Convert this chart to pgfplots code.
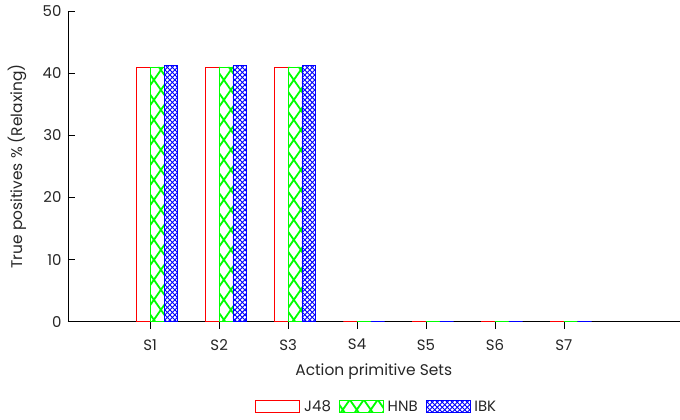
\documentclass[border=0pt]{standalone}
\usepackage{fontspec}
\setmainfont{Poppins}
\usepackage{pgfplots}
\pgfplotsset{compat=1.18}
\usetikzlibrary{patterns}
\pgfdeclarepatternformonly{bigX}{\pgfqpoint{-1bp}{-1bp}}{\pgfqpoint{15bp}{21bp}}{\pgfqpoint{14bp}{20bp}}{%
  \pgfsetlinewidth{1.8bp}%
  \pgfpathmoveto{\pgfqpoint{0bp}{0bp}}\pgfpathlineto{\pgfqpoint{14bp}{20bp}}%
  \pgfpathmoveto{\pgfqpoint{0bp}{20bp}}\pgfpathlineto{\pgfqpoint{14bp}{0bp}}%
  \pgfusepath{stroke}}
\pgfdeclarepatternformonly{smallX}{\pgfqpoint{-1bp}{-1bp}}{\pgfqpoint{6bp}{6bp}}{\pgfqpoint{5bp}{5bp}}{%
  \pgfsetlinewidth{0.9bp}%
  \pgfpathmoveto{\pgfqpoint{0bp}{0bp}}\pgfpathlineto{\pgfqpoint{5bp}{5bp}}%
  \pgfpathmoveto{\pgfqpoint{0bp}{5bp}}\pgfpathlineto{\pgfqpoint{5bp}{0bp}}%
  \pgfusepath{stroke}}
\begin{document}
\begin{tikzpicture}
\begin{axis}[
  at={(0,0)}, anchor=south west,
  width=612bp, height=311bp, scale only axis,
  xmin=-0.193, xmax=8.677, ymin=0, ymax=50,
  axis x line*=bottom, axis y line*=left,
  axis line style={line width=0.9bp},
  xtick={1,2,3,4,5,6,7},
  xticklabels={S1,S2,S3,S4,S5,S6,S7},
  ytick={0,10,20,30,40,50},
  tick align=inside,
  major tick length=7bp,
  tick style={black, line width=0.7bp},
  ticklabel style={font=\fontsize{15}{17}\selectfont, text=black!85},
  xticklabel style={yshift=-7bp},
  yticklabel style={xshift=-3bp},
  /pgf/number format/assume math mode=true,
  xlabel={Action primitive Sets},
  ylabel={True positives \% (Relaxing)},
  label style={font=\fontsize{15.5}{17}\selectfont, text=black!85},
  xlabel style={at={(axis description cs:0.5,0)}, anchor=center, yshift=-50bp},
  ylabel style={at={(axis description cs:0,0.5)}, anchor=center, yshift=51bp},
  ybar, bar width=0.2,
  legend style={at={(0.505,-0.273)}, anchor=center, draw=none, fill=none,
    font=\fontsize{15}{17}\selectfont, text=black!85,
    legend columns=3,
    /tikz/every odd column/.append style={column sep=2bp},
    /tikz/every even column/.append style={column sep=6bp}},
  legend image code/.code={\draw[#1] (0bp,-6bp) rectangle (44bp,6bp);},
]
\addplot[draw=red, fill=white, line width=0.8bp, bar shift=-0.1] coordinates {(1,41.0) (2,41.0) (3,41.0) (4,0) (5,0) (6,0) (7,0)};
\addplot[draw=green, pattern=bigX, pattern color=green, line width=0.8bp, bar shift=0.1] coordinates {(1,41.0) (2,41.0) (3,41.0) (4,0) (5,0) (6,0) (7,0)};
\addplot[draw=blue, pattern=smallX, pattern color=blue, line width=0.8bp, bar shift=0.3] coordinates {(1,41.2) (2,41.2) (3,41.2) (4,0) (5,0) (6,0) (7,0)};
\legend{J48,HNB,IBK}
\end{axis}
\useasboundingbox (-68bp,-98bp) rectangle (612bp,322bp);
\end{tikzpicture}
\end{document}
